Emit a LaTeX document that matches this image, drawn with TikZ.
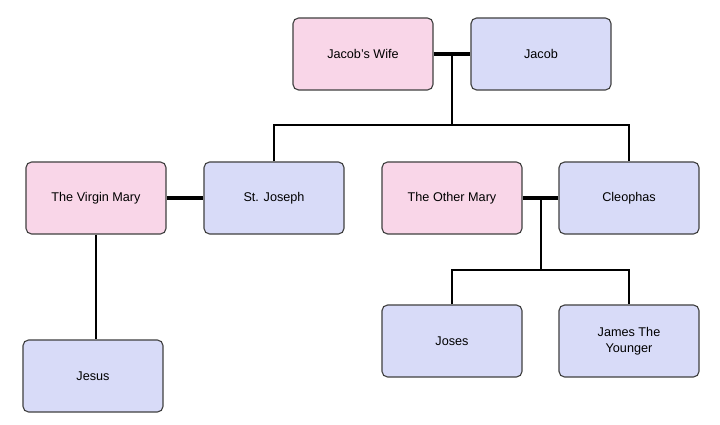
\documentclass[tikz,border=0pt]{standalone}
\usepackage{fontspec}
\setmainfont{Liberation Sans}
\usetikzlibrary{calc}
\definecolor{wifepink}{HTML}{F9D6E8}
\definecolor{manblue}{HTML}{D8DBF8}
\tikzset{ person/.style = { rectangle % family member
        , rounded corners = 4pt
        , draw = black!75
        , thick
        , minimum width = 3.5cm
        , minimum height = 1.8cm
        , align = center
        , font = \small
        }
        , f/.style = { person, fill = wifepink } % female
        , m/.style = { person, fill = manblue } % male
        }
\begin{document}
\begin{tikzpicture}[x=0.025cm, y=-0.025cm, thick,
        marriage_style/.style={draw=black, line width=2.5pt},
        child_style/.style={draw=black, thick}]
        \useasboundingbox (0,0) rectangle (720,425);

        \node [f](wife) at (363,54) {Jacob's Wife};
        \node [m](jacob) at (541,54) {Jacob};
        \node [f](vmary) at (96,198) {The Virgin Mary};
        \node [m](joseph) at (274,198) {St. Joseph};
        \node [f](omary) at (452,198) {The Other Mary};
        \node [m](cleophas) at (629,198) {Cleophas};
        \node [m](jesus) at (93,376) {Jesus};
        \node [m](joses) at (452,341) {Joses};
        \node [m](james) at (629,341) {James The\\Younger};

        \draw [marriage_style] (wife) -- (jacob);
        \draw [marriage_style] (vmary) -- (joseph);
        \draw [marriage_style] (omary) -- (cleophas);

        \coordinate (c1) at (452,54);
        \coordinate (c2) at (452,125);
        \draw [child_style] (c1) -- (c2);
        \draw [child_style] (joseph.north) |- (c2) -| (cleophas.north);
        \draw [child_style] (vmary.south) -- (vmary.south |- jesus.north);

        \coordinate (c3) at (541,198);
        \coordinate (c4) at (541,270);
        \draw [child_style] (c3) -- (c4);
        \draw [child_style] (joses.north) |- (c4) -| (james.north);
\end{tikzpicture}
\end{document}
